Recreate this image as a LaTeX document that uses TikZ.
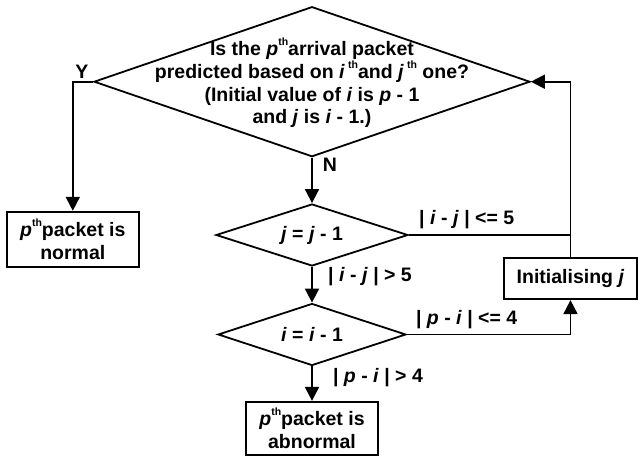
\documentclass[tikz,border=0pt]{standalone}
\usepackage{fontspec}
\setmainfont{Liberation Sans}
\usetikzlibrary{shapes.geometric,arrows.meta,calc}
\newcommand\thsup{\raisebox{0.5em}{\fontsize{10.5}{10.5}\selectfont th}}
\begin{document}
\begin{tikzpicture}[x=1pt,y=-1pt,
  every node/.style={font=\fontsize{19.5}{22.7}\selectfont\bfseries},
  dia/.style={draw, diamond, inner sep=0pt, line width=1.8pt},
  box/.style={draw, rectangle, line width=1.8pt, align=center, inner sep=0pt},
  conn/.style={line width=1.8pt},
  arr/.style={conn, -{Triangle[length=14pt,width=14pt]}},
  lbl/.style={inner sep=0pt}
]
\useasboundingbox (0,0) rectangle (638,456);
% shapes
\node[dia, minimum width=436pt, minimum height=150pt] (top) at (312,81.7) {};
\node[align=center, inner sep=0pt] (toptxt) at (312,83) {Is the \textit{p}\thsup arrival packet\\ predicted based on \textit{i}\,\thsup and \textit{j}\,\thsup{} one?\\ (Initial value of \textit{i} is \textit{p} - 1\\ and \textit{j} is \textit{i} - 1.)};
\node[box, minimum width=132pt, minimum height=55pt] (normal) at (72.8,239.2) {\textit{p}\thsup packet is\\normal};
\node[dia, minimum width=192pt, minimum height=62pt] (jd) at (312,235) {};
\node[lbl] (jdtxt) at (jd.center) {\textit{j} = \textit{j} - 1};
\node[dia, minimum width=188pt, minimum height=62pt] (id) at (312,334.5) {};
\node[lbl] (idtxt) at (id.center) {\textit{i} = \textit{i} - 1};
\node[box, minimum width=132pt, minimum height=53pt] (abn) at (312,428.3) {\textit{p}\thsup packet is\\abnormal};
\node[box, minimum width=133pt, minimum height=41pt] (init) at (570.5,278.7) {Initialising \textit{j}};
% connectors
\draw[arr] (top.west) -| (normal.north);
\draw[arr] (top.south) -- (jd.north);
\draw[arr] (jd.south) -- (id.north);
\draw[arr] (id.south) -- (abn.north);
\draw[conn] (jd.east) -- (jd.east -| init.north);
\draw[arr] (init.north) |- (top.east);
\draw[arr] (id.east) -| (init.south);
% labels
\node[lbl] (ly) at (82,72) {Y};
\node[lbl] (ln) at (330,165) {N};
\node[lbl] (l1) at (466.7,220) {| \textit{i} - \textit{j} | <= 5};
\node[lbl] (l2) at (370,276.7) {| \textit{i} - \textit{j} | > 5};
\node[lbl] (l3) at (466.7,320) {| \textit{p} - \textit{i} | <= 4};
\node[lbl] (l4) at (378,378) {| \textit{p} - \textit{i} | > 4};
\end{tikzpicture}
\end{document}
